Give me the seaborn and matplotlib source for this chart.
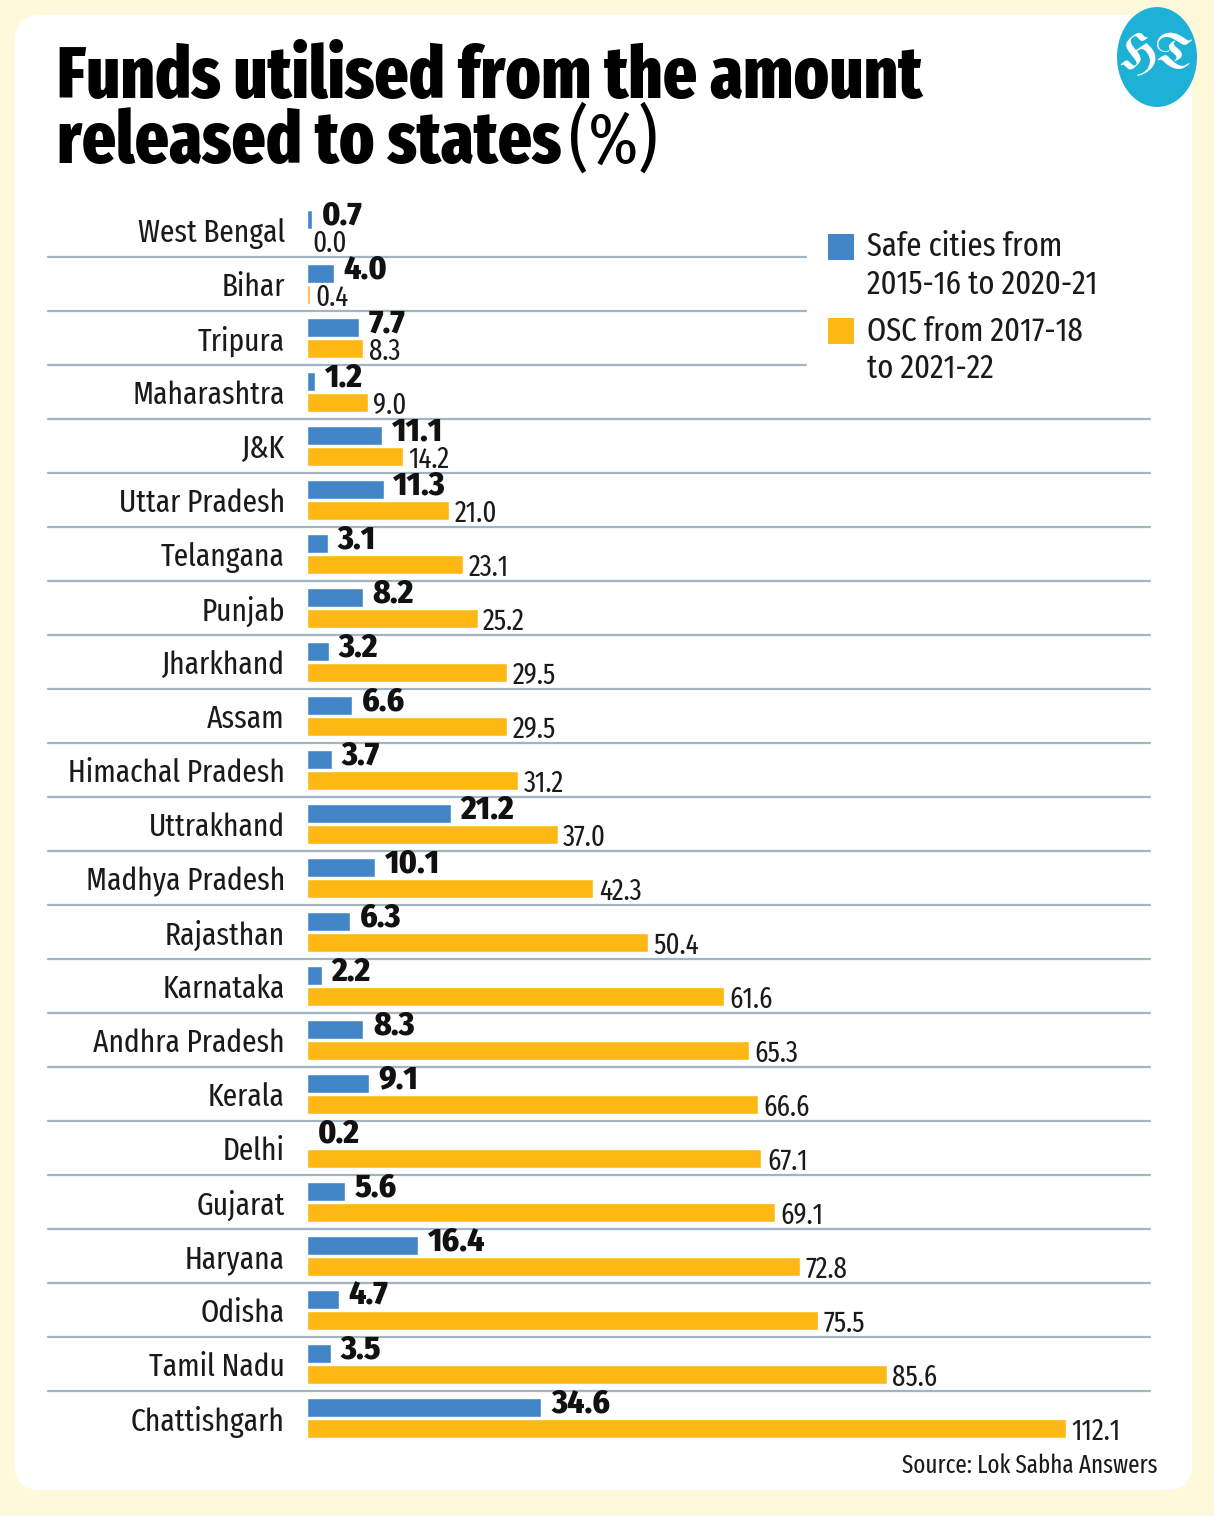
import pandas as pd
import matplotlib.pyplot as plt
import seaborn as sns
from matplotlib import font_manager
from matplotlib.patches import FancyBboxPatch, Rectangle, Circle

sns.set_theme(style="white")

# pick a condensed face if one is installed
_avail = {f.name for f in font_manager.fontManager.ttflist}
def pick(*names):
    for n in names:
        if n in _avail:
            return [n, "DejaVu Sans"]
    return ["DejaVu Sans"]

NARROW = pick("Fira Sans Extra Condensed", "Fira Sans Condensed", "Barlow Condensed",
              "Asap Condensed", "Liberation Sans Narrow")
TITLE = pick("Fira Sans Extra Condensed", "Barlow Condensed", "Asap Condensed")
BOLD = pick("Fira Sans Condensed", "Fira Sans", "Open Sans")
GOTHIC = pick("UnifrakturMaguntia", "UnifrakturCook", "Pirata One", "DejaVu Serif")
plt.rcParams["font.family"] = NARROW

# ---- data ----
states = ["West Bengal", "Bihar", "Tripura", "Maharashtra", "J&K", "Uttar Pradesh",
          "Telangana", "Punjab", "Jharkhand", "Assam", "Himachal Pradesh", "Uttrakhand",
          "Madhya Pradesh", "Rajasthan", "Karnataka", "Andhra Pradesh", "Kerala", "Delhi",
          "Gujarat", "Haryana", "Odisha", "Tamil Nadu", "Chattishgarh"]
safe_cities = [0.7, 4.0, 7.7, 1.2, 11.1, 11.3, 3.1, 8.2, 3.2, 6.6, 3.7, 21.2,
               10.1, 6.3, 2.2, 8.3, 9.1, 0.2, 5.6, 16.4, 4.7, 3.5, 34.6]
osc = [0.0, 0.4, 8.3, 9.0, 14.2, 21.0, 23.1, 25.2, 29.5, 29.5, 31.2, 37.0,
       42.3, 50.4, 61.6, 65.3, 66.6, 67.1, 69.1, 72.8, 75.5, 85.6, 112.1]
series_names = ["Safe cities from\n2015-16 to 2020-21", "OSC from 2017-18\nto 2021-22"]
colors = ["#4286c7", "#fdb813"]

df = pd.DataFrame({"state": states * 2,
                   "value": safe_cities + osc,
                   "series": [series_names[0]] * len(states) + [series_names[1]] * len(states)})

# ---- figure ----
W, H = 1214, 1516
fig = plt.figure(figsize=(W / 100, H / 100), dpi=100)
fig.patch.set_facecolor("#fff9dc")
fig.patches.append(FancyBboxPatch((0.15, (H - 1490) / 100), 11.77, 14.75,
                                  boxstyle="round,pad=0,rounding_size=0.25",
                                  transform=fig.dpi_scale_trans, facecolor="white",
                                  edgecolor="none", zorder=-5))

ax = fig.add_axes([307 / W, 1 - 1445 / H, 843 / W, 1242 / H])
ax.set_facecolor("none")
sns.barplot(data=df, y="state", x="value", hue="series", orient="h",
            palette=dict(zip(series_names, colors)), saturation=1,
            width=0.78, gap=0.12, legend=False, ax=ax)

ax.set_xlim(0, 843 / 6.771)
ax.set_xlabel("")
ax.set_ylabel("")
ax.set_xticks([])
ax.tick_params(axis="y", length=0, pad=16, labelsize=23, labelcolor="#1a1a1a")
for s in ax.spines.values():
    s.set_visible(False)

# row separators (shorter next to the legend)
for i in range(len(states) - 1):
    xmax = 0.592 if i < 3 else 1.0
    ax.axhline(i + 0.5, xmin=-0.307, xmax=xmax, color="#a3b4c1", lw=1.6,
               clip_on=False, zorder=0)

# value labels
blue_lbl = ax.bar_label(ax.containers[0], labels=[f"{v:.1f}" for v in safe_cities],
                        padding=7, fontsize=24, fontweight="heavy", family=BOLD,
                        color="#111111")
orange_lbl = ax.bar_label(ax.containers[1], labels=[f"{v:.1f}" for v in osc],
                          padding=4, fontsize=21, color="#1a1a1a")
for a in blue_lbl:
    a.xyann = (a.xyann[0], 2.5)
for a in orange_lbl:
    a.xyann = (a.xyann[0], -2.5)

# legend
for k, (name, c) in enumerate(zip(series_names, colors)):
    y_top = [234, 318][k]
    fig.patches.append(Rectangle((828 / W, 1 - (y_top + 26) / H), 26 / W, 26 / H,
                                 transform=fig.transFigure, facecolor=c, edgecolor="none"))
    fig.text(867 / W, 1 - (y_top - 3) / H, name, fontsize=24, va="top", ha="left",
             color="#1a1a1a", linespacing=1.22)

# title
t1 = fig.text(57 / W, 1 - 98 / H, "Funds utilised from the amount", fontsize=52,
              fontweight="heavy", family=TITLE, va="baseline", ha="left", color="black")
t2 = fig.text(57 / W, 1 - 163 / H, "released to states", fontsize=52,
              fontweight="heavy", family=TITLE, va="baseline", ha="left", color="black")
fig.canvas.draw()
bb = t2.get_window_extent()
fig.text((bb.x1 + 8) / W, 1 - 163 / H, "(%)", fontsize=52, fontweight="normal",
         family=TITLE, va="baseline", ha="left", color="black")

# HT logo
fig.patches.append(Circle((1157 / W, 1 - 57 / H), 40 / W, transform=fig.transFigure,
                          facecolor="#1cb1d5", edgecolor="none"))
fig.text(1157 / W, 1 - 56 / H, "HT", fontsize=36, family=GOTHIC,
         color="white", ha="center", va="center")

# source
fig.text(1158 / W, 1 - 1473 / H, "Source: Lok Sabha Answers", fontsize=18,
         ha="right", va="baseline", color="#1a1a1a")

fig.savefig("out.png", dpi=100, facecolor=fig.get_facecolor())
